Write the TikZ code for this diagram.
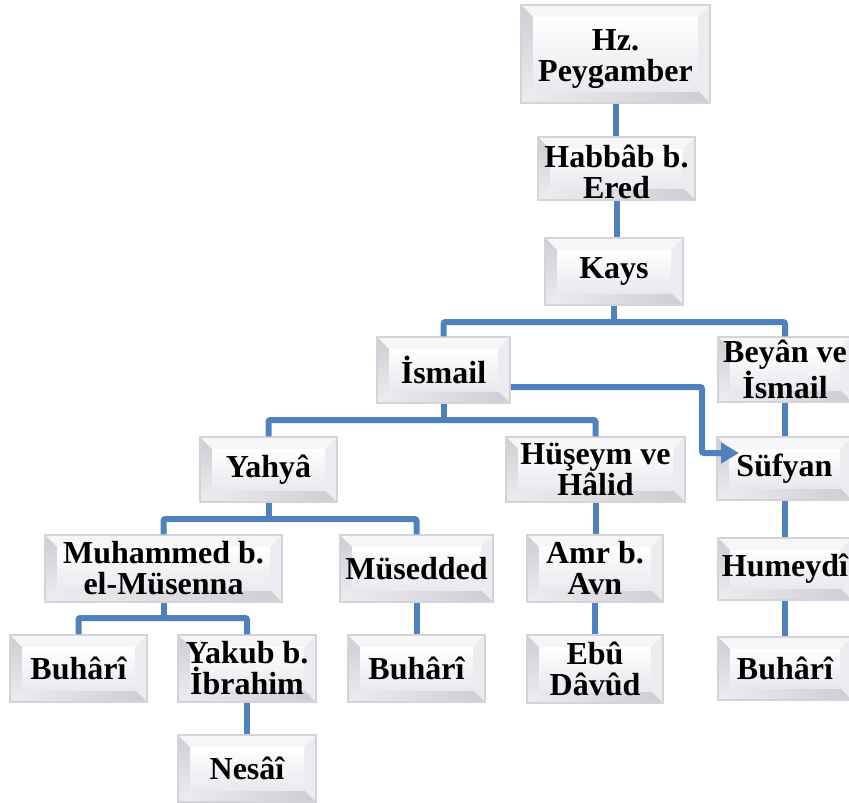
\documentclass[tikz,border=0pt]{standalone}
\usepackage{fontspec}
\setmainfont{Liberation Serif}
\usetikzlibrary{arrows.meta}
\definecolor{conn}{RGB}{79,129,189}
\definecolor{bvline}{RGB}{212,212,216}
\definecolor{bvtop}{RGB}{246,246,248}
\definecolor{bvleft}{RGB}{205,205,212}
\definecolor{bvright}{RGB}{236,236,240}
\definecolor{bvbot}{RGB}{220,220,228}
\definecolor{facebot}{RGB}{232,232,238}
\tikzset{
  bev/.style={rectangle, inner sep=0pt, align=center,
    font=\bfseries\fontsize{32}{31}\selectfont,
    path picture={
      \fill[bvtop] (path picture bounding box.north west) -- (path picture bounding box.north east) -- ([xshift=-12pt,yshift=-12pt]path picture bounding box.north east) -- ([xshift=12pt,yshift=-12pt]path picture bounding box.north west) -- cycle;
      \shade[top color=bvleft, bottom color=bvright] (path picture bounding box.north west) -- ([xshift=12pt,yshift=-12pt]path picture bounding box.north west) -- ([xshift=12pt,yshift=12pt]path picture bounding box.south west) -- (path picture bounding box.south west) -- cycle;
      \fill[bvright] (path picture bounding box.north east) -- ([xshift=-12pt,yshift=-12pt]path picture bounding box.north east) -- ([xshift=-12pt,yshift=12pt]path picture bounding box.south east) -- (path picture bounding box.south east) -- cycle;
      \shade[left color=bvright, right color=bvleft] (path picture bounding box.south west) -- ([xshift=12pt,yshift=12pt]path picture bounding box.south west) -- ([xshift=-12pt,yshift=12pt]path picture bounding box.south east) -- (path picture bounding box.south east) -- cycle;
      \shade[top color=white, bottom color=facebot] ([xshift=12pt,yshift=-12pt]path picture bounding box.north west) rectangle ([xshift=-12pt,yshift=12pt]path picture bounding box.south east);
    },
    draw=bvline, line width=1.5pt},
  conline/.style={draw=conn, line width=6pt, rounded corners=2pt},
  conarrow/.style={conline, -{Triangle[length=18pt,width=20pt]}}
}
\begin{document}
\begin{tikzpicture}[x=1pt,y=-1pt]
\useasboundingbox (0,0) rectangle (849,803);
% boxes
\node[bev, minimum width=189pt, minimum height=98pt] (hz) at (615.5,54) {\rule{0pt}{31pt}Hz.\\Peygamber};
\node[bev, minimum width=157pt, minimum height=63pt] (hab) at (616.5,168.5) {\rule{0pt}{30pt}Habbâb b.\\Ered};
\node[bev, minimum width=138pt, minimum height=67pt] (kays) at (614,271.5) {Kays};
\node[bev, minimum width=133pt, minimum height=66pt] (ismail) at (443.5,370) {İsmail};
\node[bev, minimum width=134pt, minimum height=65pt] (beyan) at (785,369.5) {Beyân ve\\İsmail};
\node[bev, minimum width=137pt, minimum height=65pt] (yahya) at (268.5,469.5) {Yahyâ};
\node[bev, minimum width=179pt, minimum height=65pt] (huseym) at (595.5,469.5) {Hüşeym ve\\Hâlid};
\node[bev, minimum width=135pt, minimum height=63pt] (sufyan) at (784.5,468.5) {Süfyan};
\node[bev, minimum width=237pt, minimum height=67pt] (muh) at (163.5,568.5) {Muhammed b.\\el-Müsenna};
\node[bev, minimum width=153pt, minimum height=67pt] (mus) at (416.5,568.5) {Müsedded};
\node[bev, minimum width=136pt, minimum height=67pt] (amr) at (595,568.5) {Amr b.\\Avn};
\node[bev, minimum width=134pt, minimum height=62pt] (hum) at (785,569) {Humeydî};
\node[bev, minimum width=137pt, minimum height=67pt] (buh1) at (78.5,668.5) {Buhârî};
\node[bev, minimum width=138pt, minimum height=67pt] (yakub) at (247,668.5) {Yakub b.\\İbrahim};
\node[bev, minimum width=137pt, minimum height=67pt] (buh2) at (416.5,668.5) {Buhârî};
\node[bev, minimum width=136pt, minimum height=68pt] (ebu) at (595,669) {Ebû\\Dâvûd};
\node[bev, minimum width=134pt, minimum height=63pt] (buh3) at (785,668.5) {Buhârî};
\node[bev, minimum width=138pt, minimum height=67pt] (nesai) at (247,768.5) {Nesâî};
% bus coordinates
\coordinate (bus1) at (0,322);
\coordinate (bus2) at (0,420);
\coordinate (bus3) at (0,519);
\coordinate (bus4) at (0,618);
\coordinate (elb) at (702,0);
\coordinate (tip) at (739,453);
% connectors
\draw[conline] (hz.south) -- (hz.south |- hab.north);
\draw[conline] (hab.south) -- (hab.south |- kays.north);
\draw[conline] (kays.south) -- (kays.south |- bus1);
\draw[conline] (ismail.north) -- (ismail.north |- bus1) -- (beyan.north |- bus1) -- (beyan.north);
\draw[conline] (ismail.south) -- (ismail.south |- bus2);
\draw[conline] (yahya.north) -- (yahya.north |- bus2) -- (huseym.north |- bus2) -- (huseym.north);
\draw[conarrow] ([yshift=-17pt]ismail.east) -| (elb |- tip) -- (tip);
\draw[conline] (beyan.south) -- (beyan.south |- sufyan.north);
\draw[conline] (sufyan.south) -- (sufyan.south |- hum.north);
\draw[conline] (hum.south) -- (hum.south |- buh3.north);
\draw[conline] (yahya.south) -- (yahya.south |- bus3);
\draw[conline] (muh.north) -- (muh.north |- bus3) -- (mus.north |- bus3) -- (mus.north);
\draw[conline] (huseym.south) -- (huseym.south |- amr.north);
\draw[conline] (amr.south) -- (amr.south |- ebu.north);
\draw[conline] (muh.south) -- (muh.south |- bus4);
\draw[conline] (buh1.north) -- (buh1.north |- bus4) -- (yakub.north |- bus4) -- (yakub.north);
\draw[conline] (mus.south) -- (mus.south |- buh2.north);
\draw[conline] (yakub.south) -- (yakub.south |- nesai.north);
\end{tikzpicture}
\end{document}
